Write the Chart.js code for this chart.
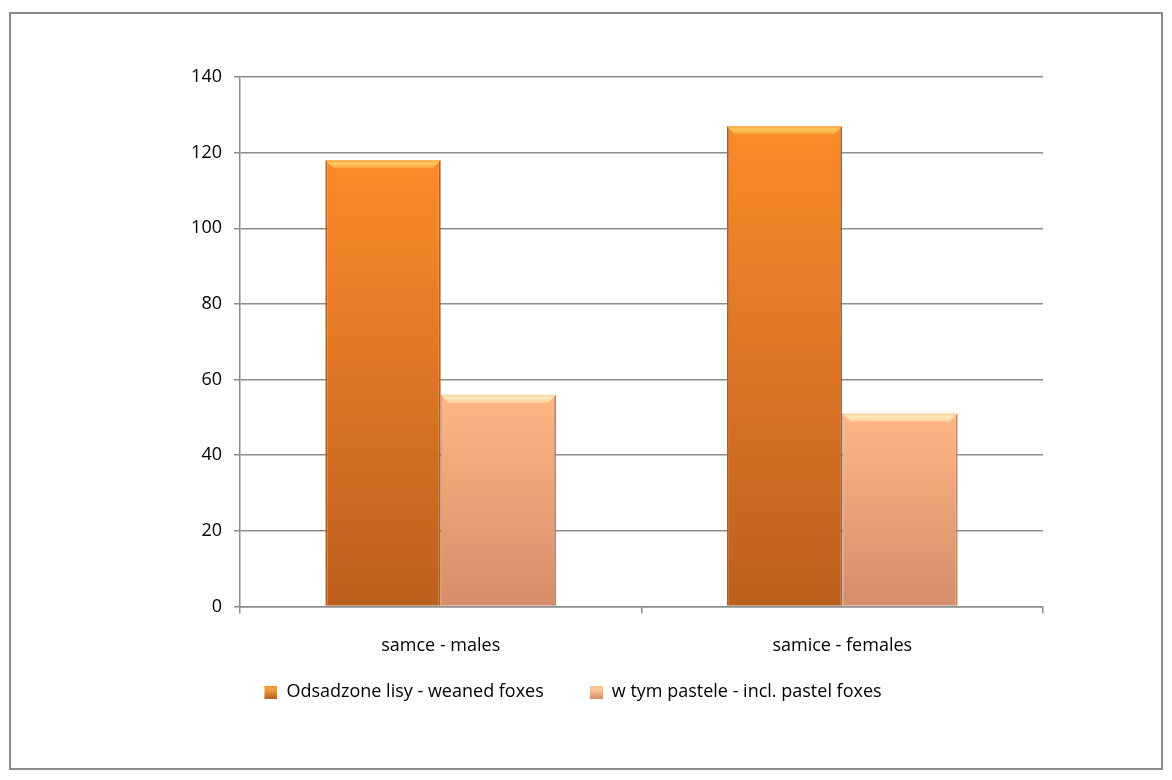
<!DOCTYPE html>
<html>
<head>
<meta charset="utf-8">
<script src="https://cdn.jsdelivr.net/npm/chart.js@4/dist/chart.umd.min.js"></script>
<style>
  body { margin: 0; background: #fff; }
  #ramka {
    position: absolute; left: 9px; top: 12px;
    width: 1150px; height: 754px;
    border: 2px solid #8c8c8c; background: #fff;
  }
</style>
</head>
<body>
<div id="ramka"><canvas id="wykres"></canvas></div>
<script>
// dane
const kategorie = ["samce - males", "samice - females"];
const odsadzone = [118, 127];
const pastele = [56, 51];
const nazwySerii = ["Odsadzone lisy - weaned foxes", "w tym pastele - incl. pastel foxes"];

const czcionka = { family: "Open Sans", size: 18 };
const koloryGora = ["#fa8b2a", "#ffb684"];
const koloryDol = ["#bd5f1e", "#d68c6a"];

// gradient pionowy od wierzchu słupka do osi
function gradient(c, gora, dol) {
  const chart = c.chart;
  if (!chart.chartArea || c.raw === undefined) return gora;
  const y = chart.scales.y;
  const g = chart.ctx.createLinearGradient(0, y.getPixelForValue(c.raw), 0, y.getPixelForValue(0));
  g.addColorStop(0, gora);
  g.addColorStop(1, dol);
  return g;
}

// kwadracik legendy z pustym miejscem po lewej (większy odstęp między pozycjami)
function znacznik(i) {
  const cv = document.createElement("canvas");
  cv.width = 55;
  cv.height = 13;
  const c = cv.getContext("2d");
  const g = c.createLinearGradient(0, 0, 0, 13);
  g.addColorStop(0, koloryGora[i]);
  g.addColorStop(0.3, i === 0 ? "#f0a040" : "#ffd0a0");
  g.addColorStop(1, koloryDol[i]);
  c.fillStyle = g;
  c.fillRect(42, 0, 13, 13);
  return cv;
}

// jasny pasek na górze słupka (efekt fazy)
const faza = {
  id: "faza",
  afterDatasetsDraw(chart) {
    const kolory = [["#ffd36a", "#fba83c"], ["#fff3c4", "#ffd3a0"]];
    const c = chart.ctx;
    chart.data.datasets.forEach((ds, i) => {
      chart.getDatasetMeta(i).data.forEach((bar) => {
        const l = bar.x - bar.width / 2, r = bar.x + bar.width / 2, t = bar.y;
        c.save();
        c.beginPath();
        c.moveTo(l, t);
        c.lineTo(r, t);
        c.lineTo(r - 8, t + 8);
        c.lineTo(l + 8, t + 8);
        c.closePath();
        const g = c.createLinearGradient(0, t, 0, t + 8);
        g.addColorStop(0, kolory[i][1]);
        g.addColorStop(0.4, kolory[i][0]);
        g.addColorStop(1, kolory[i][1]);
        c.fillStyle = g;
        c.globalAlpha = 0.85;
        c.fill();
        c.restore();
      });
    });
  },
};

const ctx = document.getElementById("wykres").getContext("2d");
const wykres = new Chart(ctx, {
  type: "bar",
  data: {
    labels: kategorie,
    datasets: [
      {
        label: nazwySerii[0],
        data: odsadzone,
        backgroundColor: (c) => gradient(c, koloryGora[0], koloryDol[0]),
        borderColor: "#b85c1a",
        borderWidth: { left: 2, right: 2, top: 0, bottom: 0 },
      },
      {
        label: nazwySerii[1],
        data: pastele,
        backgroundColor: (c) => gradient(c, koloryGora[1], koloryDol[1]),
        borderColor: "#c7825f",
        borderWidth: { left: 1, right: 2, top: 0, bottom: 0 },
      },
    ],
  },
  options: {
    responsive: true,
    maintainAspectRatio: false,
    animation: false,
    layout: { padding: { left: 50, right: 118, top: 63, bottom: 57 } },
    datasets: { bar: { categoryPercentage: 0.575, barPercentage: 1.0 } },
    plugins: {
      tooltip: { enabled: false },
      legend: {
        position: "bottom",
        labels: {
          font: czcionka,
          color: "#000",
          usePointStyle: true,
          pointStyleWidth: 55,
          boxHeight: 13,
          padding: 4,
          generateLabels: function (chart) {
            return chart.data.datasets.map((ds, i) => ({
              text: ds.label,
              pointStyle: znacznik(i),
              fillStyle: koloryGora[i],
              strokeStyle: koloryDol[i],
              lineWidth: 0,
              datasetIndex: i,
              hidden: false,
            }));
          },
        },
      },
    },
    scales: {
      x: {
        grid: {
          offset: true,
          drawOnChartArea: false,
          drawTicks: true,
          tickLength: 7,
          color: "#8c8c8c",
          lineWidth: 1.5,
        },
        border: { color: "#8c8c8c", width: 1.5 },
        ticks: { font: czcionka, color: "#000", padding: 22 },
      },
      y: {
        min: 0,
        max: 140,
        afterFit: (s) => { s.width = 179; },
        ticks: { stepSize: 20, font: czcionka, color: "#000", padding: 12 },
        grid: { color: "#8c8c8c", lineWidth: 1.5, tickLength: 6 },
        border: { color: "#8c8c8c", width: 1.5 },
      },
    },
  },
  plugins: [faza],
});
</script>
</body>
</html>
